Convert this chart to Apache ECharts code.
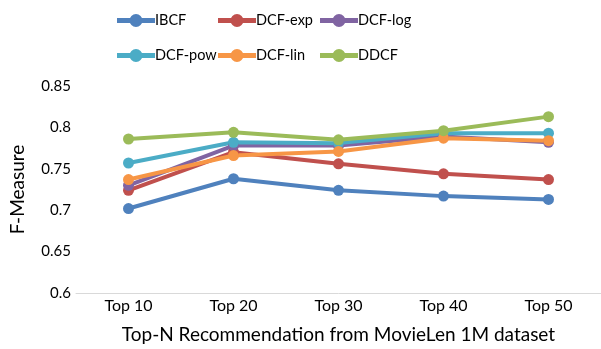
<!DOCTYPE html>
<html>
<head>
<meta charset="utf-8">
<script src="https://cdn.jsdelivr.net/npm/echarts@6/dist/echarts.min.js"></script>
<style>
  html, body { margin: 0; padding: 0; background: #fff; }
  #chart { width: 601px; height: 349px; }
</style>
</head>
<body>
<div id="chart"></div>
<script>
// data
const categories = ["Top 10", "Top 20", "Top 30", "Top 40", "Top 50"];
const ibcf = [0.702, 0.738, 0.724, 0.717, 0.713];
const dcfExp = [0.724, 0.770, 0.756, 0.744, 0.737];
const dcfLog = [0.730, 0.778, 0.778, 0.789, 0.782];
const dcfPow = [0.757, 0.782, 0.781, 0.793, 0.793];
const dcfLin = [0.737, 0.766, 0.771, 0.787, 0.784];
const ddcf = [0.786, 0.794, 0.785, 0.796, 0.813];

const seriesNames = ["IBCF", "DCF-exp", "DCF-log", "DCF-pow", "DCF-lin", "DDCF"];
const seriesData = [ibcf, dcfExp, dcfLog, dcfPow, dcfLin, ddcf];
const colors = ["#4F81BD", "#C0504D", "#8064A2", "#4BACC6", "#F79646", "#9BBB59"];

const font = "Lato, 'Open Sans', sans-serif";

// thick line with a dot in the middle, like the excel legend key
const legendIcon = "path://M0,4.5 L38,4.5 L38,9.5 L0,9.5 Z M19,0.5 A6.5,6.5 0 1,1 19,13.5 A6.5,6.5 0 1,1 19,0.5 Z";

// legend laid out as 2 rows x 3 columns, one legend per entry so columns line up
const legendCols = [112, 213, 315];
const legendRows = [8, 43];

const legends = seriesNames.map((n, i) => ({
  data: [n],
  left: legendCols[i % 3],
  top: legendRows[Math.floor(i / 3)],
  icon: legendIcon,
  itemWidth: 38,
  itemHeight: 14,
  itemGap: 0,
  textStyle: { fontFamily: font, fontSize: 14.5, color: "#000", padding: [0, 0, 0, -5] }
}));

const chart = echarts.init(document.getElementById("chart"));
chart.setOption({
  animation: false,
  color: colors,
  legend: legends,
  grid: { left: 71, top: 86, width: 539, height: 210 },
  xAxis: {
    type: "category",
    data: categories,
    boundaryGap: true,
    axisLine: { lineStyle: { color: "#d9d9d9", width: 1 } },
    axisTick: { show: false },
    axisLabel: { fontFamily: font, fontSize: 16, color: "#000", margin: 5 },
    name: "Top-N Recommendation from MovieLen 1M dataset",
    nameLocation: "middle",
    nameGap: 32,
    nameTextStyle: { fontFamily: font, fontSize: 19, color: "#000" }
  },
  yAxis: {
    type: "value",
    min: 0.6,
    max: 0.85,
    interval: 0.05,
    splitLine: { show: false },
    axisLine: { show: false },
    axisTick: { show: false },
    axisLabel: { fontFamily: font, fontSize: 15, color: "#000", margin: 5 },
    name: "F-Measure",
    nameLocation: "middle",
    nameGap: 49,
    nameTextStyle: { fontFamily: font, fontSize: 19, color: "#000" }
  },
  series: seriesNames.map((n, i) => ({
    name: n,
    type: "line",
    data: seriesData[i],
    symbol: "circle",
    symbolSize: 11,
    lineStyle: { width: 4, color: colors[i] },
    itemStyle: { color: colors[i] }
  }))
});
</script>
</body>
</html>
